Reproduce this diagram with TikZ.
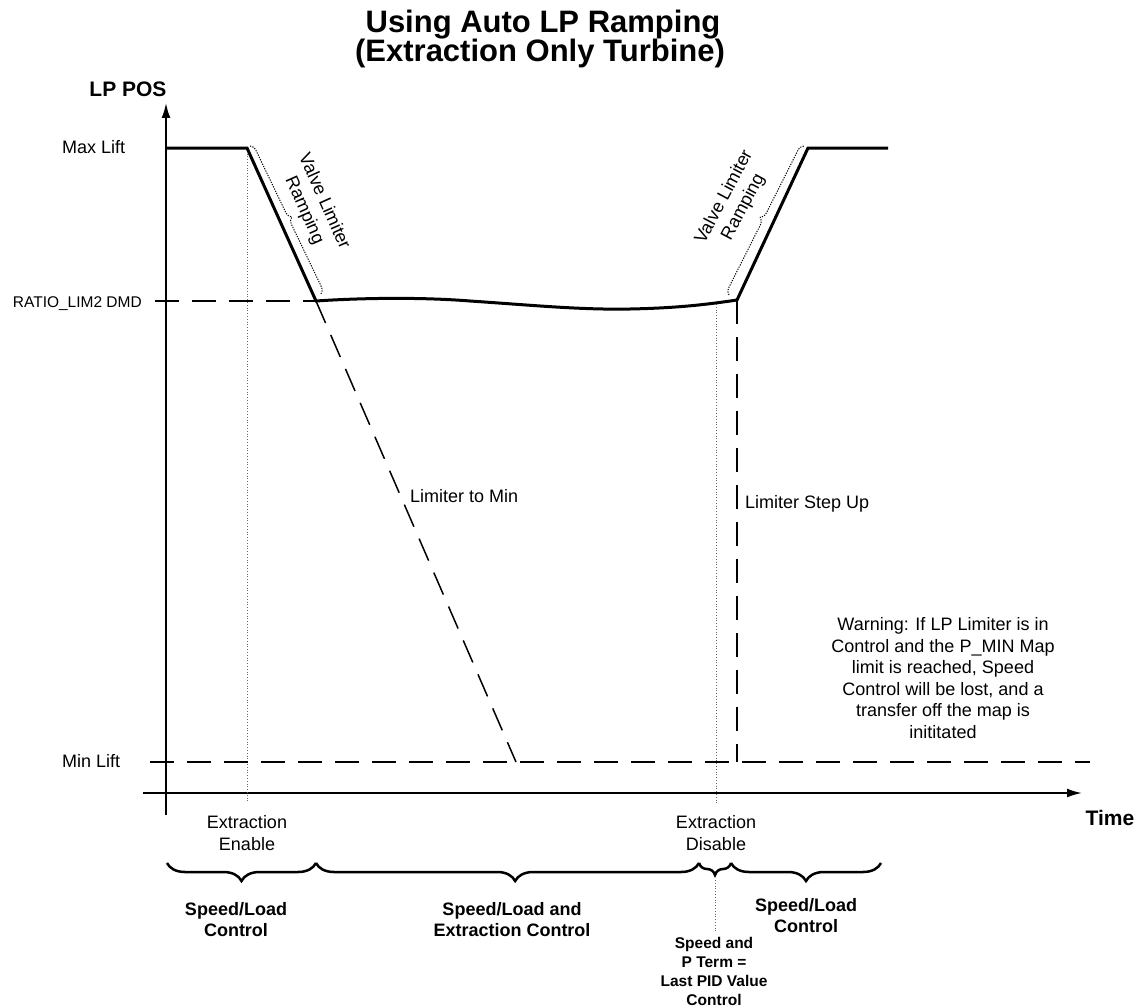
\documentclass[tikz,border=0pt]{standalone}
\usepackage{fontspec}
\setmainfont{Liberation Sans}
\usetikzlibrary{arrows.meta,decorations.pathreplacing}
\begin{document}
\begin{tikzpicture}[x=1pt,y=-1pt,
  lbl/.style={font=\fontsize{18}{21.6}\selectfont, inner sep=0pt, align=center},
  smalllbl/.style={font=\fontsize{15.5}{18}\selectfont, inner sep=0pt},
  blbl/.style={font=\bfseries\fontsize{18}{21}\selectfont, inner sep=0pt, align=center},
  sblbl/.style={font=\bfseries\fontsize{15.5}{19}\selectfont, inner sep=0pt, align=center},
  ttl/.style={font=\bfseries\fontsize{31}{30}\selectfont, inner sep=0pt},
  axlbl/.style={font=\bfseries\fontsize{21}{24}\selectfont, inner sep=0pt},
  axisline/.style={line width=2pt},
  axarrow/.style={-{Latex[length=15pt,width=9pt]}},
  trace/.style={line width=3pt},
  dashline/.style={line width=1.5pt, dash pattern=on 24pt off 13pt},
  guide/.style={line width=0.8pt, black!60, dotted},
  bigbrace/.style={decorate, decoration={brace, mirror, amplitude=18pt}, line width=2.5pt},
  rampbrace/.style={decorate, decoration={brace, amplitude=7pt}, line width=1pt, dash pattern=on 1.2pt off 1.3pt}
]
\useasboundingbox (0,0) rectangle (1139,1006);

% key points
\coordinate (yb) at (166,815);
\coordinate (yt) at (166,103);
\coordinate (xl) at (143,793);
\coordinate (xr) at (1082,793);
\coordinate (A) at (166,148);
\coordinate (B) at (247,148);
\coordinate (C) at (316,301);
\coordinate (D) at (737,300);
\coordinate (E) at (808,148);
\coordinate (F) at (888,148);
\coordinate (rl) at (155,301);
\coordinate (ml) at (150,762);
\coordinate (mr) at (1090,762);
\coordinate (mC) at (516,762);
\coordinate (mD) at (737,762);
\coordinate (eb) at (247,803);
\coordinate (dt) at (716,304);
\coordinate (db) at (716,803);

% axes
\draw[axisline,axarrow] (yb) -- (yt);
\draw[axisline,axarrow] (xl) -- (xr);

% guide lines
\draw[guide] (B) -- (eb);
\draw[guide] (dt) -- (db);

% dashed lines
\draw[dashline] (rl) -- (C);
\draw[dashline] (ml) -- (mr);
\draw[dashline] (C) -- (mC);
\draw[dashline] (D) -- (mD);

% LP position trace
\draw[trace] (A) -- (B) -- (C)
  .. controls (360,298) and (420,297) .. (470,301)
  .. controls (530,305) and (580,310) .. (630,309)
  .. controls (680,308) and (710,304) .. (D) -- (E) -- (F);

% ramp braces
\coordinate (rb1s) at (250,146);
\coordinate (rb1e) at (321,294);
\coordinate (rb2s) at (729,295);
\coordinate (rb2e) at (804,146);
\draw[rampbrace] (rb1s) -- (rb1e);
\draw[rampbrace] (rb2s) -- (rb2e);

% title and axis labels
\node[ttl, anchor=base] (t1) at (543,33) {Using Auto LP Ramping};
\node[ttl, anchor=base] (t2) at (540,62) {(Extraction Only Turbine)};
\node[axlbl, anchor=base] (lppos) at (128,96) {LP POS};
\node[axlbl] (time) at (1110,818) {Time};
\node[lbl, anchor=base west] (maxl) at (62,153) {Max Lift};
\node[lbl, anchor=base west] (minl) at (62,767) {Min Lift};
\node[smalllbl, anchor=base east] (ratio) at (142,307) {RATIO\_LIM2 DMD};

% in-plot labels
\node[lbl, rotate=-66] (vlr1) at (314,206) {Valve Limiter\\Ramping};
\node[lbl, rotate=62] (vlr2) at (734,202) {Valve Limiter\\Ramping};
\node[lbl, anchor=base west] (ltm) at (410,502) {Limiter to Min};
\node[lbl, anchor=base west] (lsu) at (745,508) {Limiter Step Up};
\node[lbl] (warn) at (943,678) {Warning: If LP Limiter is in\\Control and the P\_MIN Map\\limit is reached, Speed\\Control will be lost, and a\\transfer off the map is\\inititated};
\node[lbl] (exen) at (247,833) {Extraction\\Enable};
\node[lbl] (exdis) at (716,833) {Extraction\\Disable};

% bottom braces
\coordinate (b0) at (167,863);
\coordinate (b1) at (316,863);
\coordinate (b2) at (699,863);
\coordinate (b3) at (731,863);
\coordinate (b4) at (881,863);
\draw[bigbrace] (b0) -- (b1);
\draw[bigbrace, decoration={aspect=0.52}] (b1) -- (b2);
\draw[bigbrace, decoration={amplitude=12pt}] (b2) -- (b3);
\draw[bigbrace] (b3) -- (b4);

\coordinate (pt) at (715,880);
\coordinate (pb) at (715,932);
\draw[guide] (pt) -- (pb);

\node[blbl] (sl1) at (236,920) {Speed/Load\\Control};
\node[blbl] (sle) at (512,920) {Speed/Load and\\Extraction Control};
\node[blbl] (sl2) at (806,916) {Speed/Load\\Control};
\node[sblbl] (spt) at (714,971) {Speed and\\P Term =\\Last PID Value\\Control};
\end{tikzpicture}
\end{document}
